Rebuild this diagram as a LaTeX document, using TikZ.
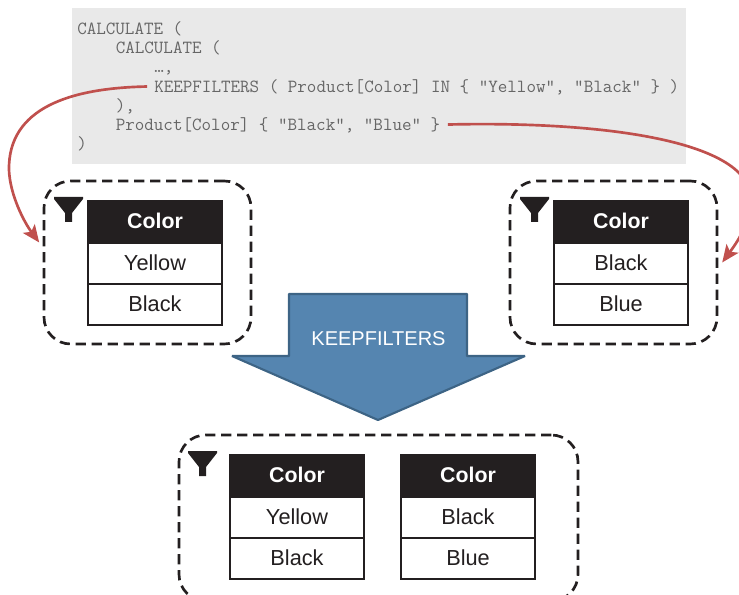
\documentclass[tikz,border=0pt]{standalone}
\usepackage{fontspec}
\setmainfont{Liberation Sans}
\usetikzlibrary{arrows.meta}
\definecolor{ink}{HTML}{231F20}
\definecolor{codebg}{HTML}{E9E9E9}
\definecolor{codefg}{HTML}{666666}
\definecolor{redline}{HTML}{C0504D}
\definecolor{bluefill}{HTML}{5585B0}
\definecolor{blueedge}{HTML}{3D6485}
\tikzset{
  x=0.75pt,y=-0.75pt,
  codeline/.style={anchor=base west,inner sep=0pt,text=codefg,font=\ttfamily\fontsize{13.9}{14}\selectfont},
  filterbox/.style={draw=ink,line width=2pt,dash pattern=on 7.6pt off 4.4pt,rounded corners=20pt,inner sep=0pt,outer sep=0pt},
  headcell/.style={draw=ink,fill=ink,line width=0.9pt,inner sep=0pt,outer sep=0pt,minimum width=100.5pt,minimum height=31.5pt,text=white,text depth=0pt,font=\fontsize{16}{18}\selectfont\bfseries},
  bodycell/.style={draw=ink,fill=white,line width=0.9pt,inner sep=0pt,outer sep=0pt,minimum width=100.5pt,minimum height=30.75pt,text=ink,text depth=0pt,font=\fontsize{16.3}{18}\selectfont},
  redarrow/.style={draw=redline,line width=2pt,-{Stealth[length=13pt,width=11pt,inset=3pt]}},
  funnel/.style={fill=ink,draw=none},
}
\newcommand{\colortable}[5]{% name, left x, top y, first, second
  \node[headcell,anchor=north west] (#1h) at (#2,#3) {\raisebox{2pt}{Color}};
  \node[bodycell,anchor=north] (#1a) at (#1h.south) {\raisebox{2pt}{#4}};
  \node[bodycell,anchor=north] (#1b) at (#1a.south) {\raisebox{2pt}{#5}};
}
\newcommand{\funnelat}[2]{%
  \fill[funnel] (#1,#2) -- ++(29,0) -- ++(0,2) -- ++(-11,14) -- ++(0,9) -- ++(-7,0) -- ++(0,-9) -- ++(-11,-14) -- cycle;
}
\begin{document}
\begin{tikzpicture}
\useasboundingbox (0,0) rectangle (739,595);
\fill[codebg] (72,8) rectangle (686,164);
\node[codeline] (l1) at (77,35) {CALCULATE (};
\node[codeline] (l2) at (115.5,54) {CALCULATE (};
\node[codeline] (l3) at (154,73) {…,};
\node[codeline] (l4) at (154,93) {KEEPFILTERS ( Product[Color] IN \{ "Yellow", "Black" \} )};
\node[codeline] (l5) at (115.5,112) {),};
\node[codeline] (l6) at (115.5,131) {Product[Color] \{ "Black", "Blue" \}};
\node[codeline] (l7) at (77,150) {)};

\node[filterbox,minimum width=155.25pt,minimum height=122.25pt] (boxL) at (147.5,262.5) {};
\node[filterbox,minimum width=155.25pt,minimum height=122.25pt] (boxR) at (613.5,262.5) {};
\node[filterbox,minimum width=299.25pt,minimum height=124.5pt] (boxB) at (378.5,518) {};

\funnelat{54}{197}
\funnelat{520}{197}
\funnelat{188}{451}
\colortable{a}{88}{201}{Yellow}{Black}
\colortable{b}{554}{201}{Black}{Blue}
\colortable{c}{230}{455}{Yellow}{Black}
\colortable{d}{401}{455}{Black}{Blue}

\draw[fill=bluefill,draw=blueedge,line width=1.6pt,line join=bevel]
  (289,294) -- (467,294) -- (467,356) -- (525,356) -- (378,420) -- (232,356) -- (289,356) -- cycle;
\node[text=white,inner sep=0pt,font=\fontsize{15}{18}\selectfont] (kf) at (378.5,339) {KEEPFILTERS};

\draw[redarrow] ([xshift=-5.2pt,yshift=1pt]l4.west) .. controls (70,88) and (8,108) .. (9,170)
  .. controls (10,195) and (24,222) .. ([xshift=-3.6pt,yshift=15pt]boxL.west);
\draw[redarrow] ([xshift=5.5pt,yshift=1pt]l6.east) .. controls (600,121) and (752,140) .. (751,200)
  .. controls (750,225) and (735,245) .. ([xshift=3.9pt]boxR.east);
\end{tikzpicture}
\end{document}
